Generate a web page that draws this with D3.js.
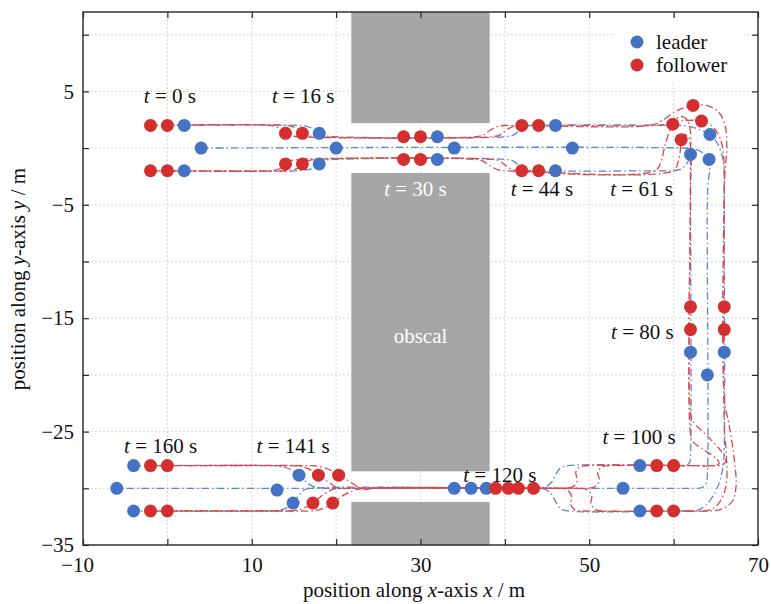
<!DOCTYPE html>
<html>
<head>
<meta charset="utf-8">
<script src="https://cdn.jsdelivr.net/npm/d3@7"></script>
<style>
  body { margin: 0; background: #fff; }
  svg { display: block; }
  text { font-family: "Liberation Serif", "Times New Roman", serif; }
</style>
</head>
<body>
<svg id="chart" width="771" height="604"></svg>
<script>
// ---- axis extents and ticks ----
const xExtent = [-10, 70];
const yExtent = [-35, 12];
const xTickValues = [-10, 0, 10, 20, 30, 40, 50, 60, 70];
const yTickValues = [10, 5, 0, -5, -10, -15, -20, -25, -30, -35];
const xTickLabels = [-10, 10, 30, 50, 70];
const yTickLabels = [5, -5, -15, -25, -35];

// ---- obstacles: shared x span, three vertical bands ----
const obstacleXSpan = [21.8, 38.2];
const obstacleYBands = [[2.2, 12], [-28.5, -2.2], [-35, -31.2]];

// ---- snapshot times (s) ----
const snapshotTimes = [0, 16, 30, 44, 61, 80, 100, 120, 141, 160];

// ---- agent positions at each snapshot time ----
const leaderTopMarks = [[2, 2], [18, 1.3], [32, 1], [46, 2], [64.3, 1.2], [66, -18], [56, -32], [36, -30], [14.9, -31.3], [-4, -32]];
const leaderMidMarks = [[4, 0], [20, 0], [34, 0], [48, 0], [64.2, -1.0], [64, -20], [54, -30], [34, -30], [13, -30.16], [-6, -30]];
const leaderBottomMarks = [[2, -2], [18, -1.4], [32, -1], [46, -2], [62, -0.56], [62, -18], [56, -28], [37.8, -30], [15.6, -28.84], [-4, -28]];
const followerTopFrontMarks = [[0, 2], [16, 1.3], [30, 1], [44, 2], [63.3, 2.38], [66, -16], [58, -32], [38.9, -30], [17.25, -31.3], [-2, -32]];
const followerTopRearMarks = [[-2, 2], [14, 1.3], [28, 1], [42, 2], [62.3, 3.76], [66, -14], [60, -32], [41.6, -30], [19.6, -31.3], [0, -32]];
const followerBottomFrontMarks = [[0, -2], [16, -1.4], [30, -1], [44, -2], [60.9, 0.74], [62, -16], [58, -28], [40.4, -30], [17.9, -28.84], [-2, -28]];
const followerBottomRearMarks = [[-2, -2], [14, -1.4], [28, -1], [42, -2], [59.9, 2.1], [62, -14], [60, -28], [43.4, -30], [20.3, -28.84], [0, -28]];

// ---- trajectories (waypoints along each agent's path) ----
const leaderTopPath = [[2, 2], [15.5, 2], [16.6, 1.9], [17.4, 1.65], [18, 1.3], [18.7, 1.08], [19.8, 1], [40, 1], [41, 1.15], [41.8, 1.6], [42.6, 1.92], [43.6, 2], [59.5, 2], [61.5, 1.95], [63, 1.65], [64.3, 1.2], [65.2, 0.4], [65.8, -0.8], [66, -2.2], [66, -4], [66, -26.5], [65.9, -27.8], [65.5, -29.3], [64.8, -30.5], [63.8, -31.5], [62.6, -32], [61, -32], [47.5, -32], [46.6, -31.8], [46.1, -31.3], [45.6, -30.6], [44.9, -30.15], [44, -30], [42, -30], [17, -30], [16.2, -30.15], [15.6, -30.6], [14.9, -31.3], [14.1, -31.75], [13, -31.97], [11.5, -32], [-4, -32]];
const leaderMidPath = [[4, 0], [61, 0], [62.6, -0.1], [63.6, -0.5], [64.2, -1.0], [64.3, -1.8], [64.1, -3], [64, -4.5], [64, -28.8], [63.85, -29.6], [63.3, -29.95], [62.5, -30], [60, -30], [-6, -30]];
const leaderBottomPath = [[2, -2], [15.5, -2], [16.6, -1.9], [17.4, -1.75], [18, -1.4], [18.7, -1.1], [19.8, -1], [40, -1], [41, -1.15], [41.8, -1.6], [42.6, -1.92], [43.6, -2], [58, -2], [60, -2], [61, -1.8], [61.7, -1.2], [62, -0.56], [62.1, -1.4], [62, -3], [62, -4.5], [62, -27], [61.9, -27.7], [61.5, -28], [60.5, -28], [47.5, -28], [46.6, -28.2], [46.1, -28.7], [45.6, -29.4], [44.9, -29.85], [44, -30], [42, -30], [19.5, -30], [18.5, -30], [17.3, -29.85], [16.4, -29.4], [15.6, -28.84], [14.5, -28.3], [13.2, -28.05], [12, -28], [-4, -28]];
const followerTopFrontPath = [[0, 2], [14, 2], [15, 1.85], [15.6, 1.6], [16, 1.3], [16.6, 1.1], [17.6, 1], [38.5, 1], [39.4, 1.15], [40.2, 1.6], [41, 1.92], [42, 2], [58, 2], [59.5, 2.15], [61, 2.4], [63.3, 2.38], [64.6, 1.9], [65.5, 0.9], [65.9, -0.5], [66, -2], [66, -4], [66, -24.5], [66.2, -26.5], [66.3, -29.2], [65.9, -30.6], [65, -31.6], [63.8, -32], [62, -32], [49.5, -32], [48.3, -31.9], [47.8, -31.4], [47.9, -30.7], [47.4, -30.15], [46.3, -30], [44, -30], [21, -30], [19.6, -30.1], [18.4, -30.6], [17.25, -31.3], [16, -31.8], [14.6, -32], [13, -32], [-2, -32]];
const followerTopRearPath = [[-2, 2], [12, 2], [13, 1.85], [13.6, 1.6], [14, 1.3], [14.6, 1.1], [15.6, 1], [36.5, 1], [37.4, 1.15], [38.3, 1.6], [39.2, 1.92], [40.2, 2], [57.2, 2], [58.6, 2.4], [60.4, 3.3], [62.3, 3.76], [64, 3.75], [65.3, 3.2], [66.1, 2], [66.3, 0], [66.1, -2], [66, -4], [66, -22], [66.6, -24.5], [67.2, -27.5], [67.4, -29.8], [67, -31.1], [65.8, -31.8], [64.3, -32], [62, -32], [52, -32], [50.8, -31.9], [50.2, -31.4], [50.3, -30.7], [49.8, -30.15], [48.8, -30], [46, -30], [23.5, -30], [22.2, -30.15], [20.9, -30.6], [19.6, -31.3], [18.4, -31.8], [17, -32], [15.5, -32], [0, -32]];
const followerBottomFrontPath = [[0, -2], [14, -2], [15, -1.9], [15.6, -1.7], [16, -1.4], [16.6, -1.12], [17.6, -1], [38.5, -1], [39.4, -1.15], [40.2, -1.6], [41, -1.92], [42, -2], [60, -2], [60.5, -1.3], [60.8, -0.2], [60.9, 0.74], [61.3, 1.2], [61.8, 0.9], [62, 0], [62, -1.5], [62, -4], [62, -25.2], [62.3, -25.9], [63.6, -26.6], [65, -27.35], [65.4, -27.8], [64.8, -28], [62, -28], [50, -28], [48.9, -28.1], [48.4, -28.6], [48.6, -29.3], [48.1, -29.85], [47, -30], [45, -30], [21.5, -30], [20.3, -30], [19.1, -29.45], [17.9, -28.84], [16.6, -28.25], [15.2, -28.02], [14, -28], [-2, -28]];
const followerBottomRearPath = [[-2, -2], [12, -2], [13, -1.9], [13.6, -1.7], [14, -1.4], [14.6, -1.12], [15.6, -1], [36.5, -1], [37.4, -1.15], [38.3, -1.6], [39.2, -1.92], [40.2, -2], [57.8, -2], [58.5, -1.2], [59, 0.3], [59.9, 2.1], [60.8, 2.8], [61.6, 2.5], [62, 1.4], [62, -0.5], [62, -4], [62, -23.3], [62.3, -24.1], [64, -25.4], [65.6, -26.7], [66.2, -27.5], [65.8, -27.95], [64.8, -28], [62, -28], [53, -28], [51.6, -28.1], [51, -28.6], [51.2, -29.3], [50.7, -29.85], [49.6, -30], [47, -30], [24.5, -30], [23.2, -30.1], [21.7, -29.45], [20.3, -28.84], [19, -28.3], [17.6, -28.03], [16.4, -28], [0, -28]];

// ---- group the agents by role ----
const leaderAgents = [
  { path: leaderTopPath, marks: leaderTopMarks },
  { path: leaderMidPath, marks: leaderMidMarks },
  { path: leaderBottomPath, marks: leaderBottomMarks }
];
const followerAgents = [
  { path: followerTopFrontPath, marks: followerTopFrontMarks },
  { path: followerTopRearPath, marks: followerTopRearMarks },
  { path: followerBottomFrontPath, marks: followerBottomFrontMarks },
  { path: followerBottomRearPath, marks: followerBottomRearMarks }
];

// ---- styling / layout ----
const leaderColor = "#4472c4";
const followerColor = "#d42f2f";
const leaderLineColor = "#5a87d4";
const followerLineColor = "#e04848";
const dashPattern = "7.5,3,1.5,3";
const markRadius = 6.5;
const fontSize = 21;

// annotation anchors for the snapshot labels (text centre, baseline), in axis units
const labelAnchors = [[0.3, 3.95], [16.1, 3.95], [29.4, -4.25], [44.4, -4.25], [56.2, -4.25],
                      [56.3, -16.8], [55.9, -26.05], [39.4, -29.42], [14.9, -26.9], [-0.8, -26.9]];
const whiteLabelTimes = [30];

const svg = d3.select("#chart");
const plot = { left: 83, right: 758, top: 12, bottom: 545 };

const x = d3.scaleLinear().domain(xExtent).range([plot.left, plot.right]);
const y = d3.scaleLinear().domain(yExtent).range([plot.bottom, plot.top]);

// ---- dotted grid ----
const grid = svg.append("g").attr("class", "grid")
  .attr("stroke", "#cccccc").attr("stroke-width", 1).attr("stroke-dasharray", "1.5,2.5");
grid.selectAll("line.gx")
  .data(xTickValues.filter(v => v > xExtent[0] && v < xExtent[1]))
  .join("line").attr("class", "gx")
  .attr("x1", d => x(d)).attr("x2", d => x(d))
  .attr("y1", y(yExtent[0])).attr("y2", y(yExtent[1]));
grid.selectAll("line.gy")
  .data(yTickValues.filter(v => v > yExtent[0] && v < yExtent[1]))
  .join("line").attr("class", "gy")
  .attr("y1", d => y(d)).attr("y2", d => y(d))
  .attr("x1", x(xExtent[0])).attr("x2", x(xExtent[1]));

// ---- obstacles ----
svg.append("g").selectAll("rect")
  .data(obstacleYBands)
  .join("rect")
  .attr("x", x(obstacleXSpan[0]))
  .attr("width", x(obstacleXSpan[1]) - x(obstacleXSpan[0]))
  .attr("y", d => y(d[1]))
  .attr("height", d => y(d[0]) - y(d[1]))
  .attr("fill", "#a6a6a6");

svg.append("text")
  .attr("x", x(30)).attr("y", y(-17.2))
  .attr("text-anchor", "middle").attr("font-size", fontSize).attr("fill", "#ffffff")
  .text("obscal");

// ---- trajectories ----
const line = d3.line()
  .x(d => x(d[0])).y(d => y(d[1]))
  .curve(d3.curveCatmullRom.alpha(0.5));

svg.append("g").attr("fill", "none")
  .selectAll("path").data(leaderAgents).join("path")
  .attr("d", d => line(d.path))
  .attr("stroke", leaderLineColor).attr("stroke-width", 1.3)
  .attr("stroke-dasharray", dashPattern);

svg.append("g").attr("fill", "none")
  .selectAll("path").data(followerAgents).join("path")
  .attr("d", d => line(d.path))
  .attr("stroke", followerLineColor).attr("stroke-width", 1.3)
  .attr("stroke-dasharray", dashPattern)
  .attr("stroke-dashoffset", (d, i) => i * 4);

// ---- snapshot marks ----
svg.append("g").selectAll("circle")
  .data(leaderAgents.flatMap(a => a.marks)).join("circle")
  .attr("cx", d => x(d[0])).attr("cy", d => y(d[1]))
  .attr("r", markRadius).attr("fill", leaderColor);

svg.append("g").selectAll("circle")
  .data(followerAgents.flatMap(a => a.marks)).join("circle")
  .attr("cx", d => x(d[0])).attr("cy", d => y(d[1]))
  .attr("r", markRadius).attr("fill", followerColor);

// ---- snapshot labels ----
const labels = svg.append("g").selectAll("text")
  .data(snapshotTimes.map((t, i) => ({ t, pos: labelAnchors[i] })))
  .join("text")
  .attr("x", d => x(d.pos[0])).attr("y", d => y(d.pos[1]))
  .attr("text-anchor", "middle").attr("font-size", fontSize)
  .attr("fill", d => whiteLabelTimes.includes(d.t) ? "#ffffff" : "#111111");
labels.append("tspan").attr("font-style", "italic").text("t");
labels.append("tspan").text(d => ` = ${d.t} s`);

// ---- legend ----
const legendItems = [
  { name: "leader", color: leaderColor },
  { name: "follower", color: followerColor }
];
const legend = svg.append("g").attr("transform", "translate(613,18)");
legend.append("rect").attr("width", 131).attr("height", 64).attr("fill", "#ffffff");
const li = legend.selectAll("g").data(legendItems).join("g")
  .attr("transform", (d, i) => `translate(0,${24 + i * 23})`);
li.append("circle").attr("cx", 24).attr("cy", 0).attr("r", markRadius).attr("fill", d => d.color);
li.append("text").attr("x", 43).attr("y", 6.5).attr("font-size", fontSize).attr("fill", "#111")
  .text(d => d.name);

// ---- axes (inward ticks on all four sides) ----
const fmt = d3.format("");
const axisColor = "#262626";
function styleAxis(g) {
  g.select(".domain").remove();
  g.selectAll(".tick line").attr("stroke", axisColor).attr("stroke-width", 1.2);
  g.selectAll(".tick text").attr("font-size", fontSize).attr("fill", "#111")
    .attr("font-family", "Liberation Serif, Times New Roman, serif");
}

svg.append("g").attr("transform", `translate(0,${plot.bottom})`)
  .call(d3.axisBottom(x).tickValues(xTickValues).tickSizeInner(-6).tickSizeOuter(0).tickPadding(12)
    .tickFormat(d => xTickLabels.includes(d) ? fmt(d) : ""))
  .call(styleAxis)
  .call(g => g.selectAll(".tick text").attr("dx", d => d < 0 ? -6 : 0));

svg.append("g").attr("transform", `translate(0,${plot.top})`)
  .call(d3.axisTop(x).tickValues(xTickValues).tickSizeInner(-6).tickSizeOuter(0).tickFormat(""))
  .call(styleAxis);

svg.append("g").attr("transform", `translate(${plot.left},0)`)
  .call(d3.axisLeft(y).tickValues(yTickValues).tickSizeInner(-6).tickSizeOuter(0).tickPadding(9)
    .tickFormat(d => yTickLabels.includes(d) ? fmt(d) : ""))
  .call(styleAxis);

svg.append("g").attr("transform", `translate(${plot.right},0)`)
  .call(d3.axisRight(y).tickValues(yTickValues).tickSizeInner(-6).tickSizeOuter(0).tickFormat(""))
  .call(styleAxis);

// frame
svg.append("rect")
  .attr("x", plot.left).attr("y", plot.top)
  .attr("width", plot.right - plot.left).attr("height", plot.bottom - plot.top)
  .attr("fill", "none").attr("stroke", axisColor).attr("stroke-width", 1.4);

// ---- axis titles ----
const xTitle = svg.append("text")
  .attr("x", 414).attr("y", 597)
  .attr("text-anchor", "middle").attr("font-size", fontSize).attr("fill", "#111");
xTitle.append("tspan").text("position along ");
xTitle.append("tspan").attr("font-style", "italic").text("x");
xTitle.append("tspan").text("-axis ");
xTitle.append("tspan").attr("font-style", "italic").text("x");
xTitle.append("tspan").text(" / m");

const yTitle = svg.append("text")
  .attr("transform", "translate(25,279) rotate(-90)")
  .attr("text-anchor", "middle").attr("font-size", fontSize).attr("fill", "#111");
yTitle.append("tspan").text("position along ");
yTitle.append("tspan").attr("font-style", "italic").text("y");
yTitle.append("tspan").text("-axis ");
yTitle.append("tspan").attr("font-style", "italic").text("y");
yTitle.append("tspan").text(" / m");
</script>
</body>
</html>
